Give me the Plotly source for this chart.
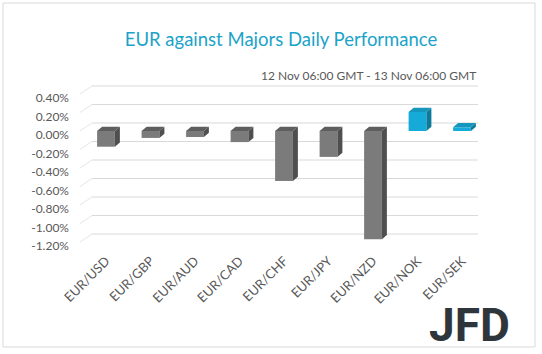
import plotly.graph_objects as go

# ---- data ----
categories = ["EUR/USD", "EUR/GBP", "EUR/AUD", "EUR/CAD", "EUR/CHF",
              "EUR/JPY", "EUR/NZD", "EUR/NOK", "EUR/SEK"]
values = [-0.17, -0.075, -0.065, -0.12, -0.54, -0.28, -1.17, 0.205, 0.04]
y_ticks = [0.40, 0.20, 0.00, -0.20, -0.40, -0.60, -0.80, -1.00, -1.20]
y_tick_labels = [f"{v:.2f}%" for v in y_ticks]
title_text = "EUR against Majors Daily Performance"
subtitle_text = "12 Nov 06:00 GMT - 13 Nov 06:00 GMT"

# ---- styling ----
W, H = 542, 354
L, R, T, B = 70, 52, 80, 104
pw, ph = W - L - R, H - T - B
bar_w = 0.4
dx, dy = 0.112, 0.045        # 3D depth offset (data units)
gx, gy = 0.27, 0.0865        # back-wall offset for gridlines
grey = dict(front="#7b7b7b", top="#5e5e5e", side="#4f4f4f")
cyan = dict(front="#15aad7", top="#1596bd", side="#0e7a9a")
text_col = "#595959"

x_idx = list(range(len(categories)))
cols = [cyan if v > 0 else grey for v in values]

fig = go.Figure()
fig.add_trace(go.Bar(
    x=x_idx, y=values, width=bar_w,
    marker=dict(color=[c["front"] for c in cols], line=dict(width=0)),
    hoverinfo="skip",
))

shapes = []
# back-wall gridlines and left-wall diagonals
for v in y_ticks:
    shapes.append(dict(type="line", xref="x", yref="y", layer="below",
                       x0=-0.584 + gx, x1=8.36, y0=v + gy, y1=v + gy,
                       line=dict(color="#d9d9d9", width=1)))
    shapes.append(dict(type="line", xref="x", yref="y", layer="below",
                       x0=-0.584, x1=-0.584 + gx, y0=v, y1=v + gy,
                       line=dict(color="#e6e6e6", width=1)))

# 3D faces of bars
for i, v in enumerate(values):
    top = max(v, 0.0)
    bot = min(v, 0.0)
    xl, xr = i - bar_w / 2, i + bar_w / 2
    c = cols[i]
    side = (f"M {xr},{top} L {xr+dx},{top+dy} L {xr+dx},{bot+dy} "
            f"L {xr},{bot} Z")
    topf = (f"M {xl},{top} L {xl+dx},{top+dy} L {xr+dx},{top+dy} "
            f"L {xr},{top} Z")
    shapes.append(dict(type="path", path=side, xref="x", yref="y",
                       fillcolor=c["side"], line=dict(width=0)))
    shapes.append(dict(type="path", path=topf, xref="x", yref="y",
                       fillcolor=c["top"], line=dict(width=0)))

# outer border
shapes.append(dict(type="rect", xref="paper", yref="paper",
                   x0=(3 - L) / pw, x1=(535 - L) / pw,
                   y0=(H - B - 347) / ph, y1=(H - B - 3) / ph,
                   line=dict(color="#d9d9d9", width=1)))

annotations = [
    dict(text=subtitle_text, xref="paper", yref="paper",
         x=(478 - L) / pw, y=(H - B - 75) / ph, xanchor="right",
         yanchor="middle", showarrow=False,
         font=dict(family="Lato", size=12, color=text_col)),
    dict(text="<b>JFD</b>", xref="paper", yref="paper",
         x=(469 - L) / pw, y=(H - B - 325) / ph, xanchor="center",
         yanchor="middle", showarrow=False,
         font=dict(family="Roboto", size=46, color="#2f363b")),
]

fig.update_layout(
    width=W, height=H,
    margin=dict(l=L, r=R, t=T, b=B, autoexpand=False),
    paper_bgcolor="white", plot_bgcolor="white",
    showlegend=False,
    title=dict(text=title_text, x=281 / W, y=1 - 40 / H,
               xanchor="center", yanchor="middle",
               font=dict(family="Lato", size=18.5, color="#1ba3c9")),
    shapes=shapes, annotations=annotations,
    xaxis=dict(range=[-0.809, 8.629], tickvals=x_idx, ticktext=categories,
               tickangle=-45, showgrid=False, zeroline=False,
               showline=False, ticks="", automargin=False,
               tickfont=dict(family="Lato", size=13, color=text_col)),
    yaxis=dict(range=[-1.286, 0.551], tickvals=y_ticks,
               ticktext=y_tick_labels, showgrid=False, zeroline=False,
               showline=False, ticks="", ticklabelshift=4, automargin=False,
               tickfont=dict(family="Lato", size=12, color=text_col)),
)

fig.write_html("out.html")
